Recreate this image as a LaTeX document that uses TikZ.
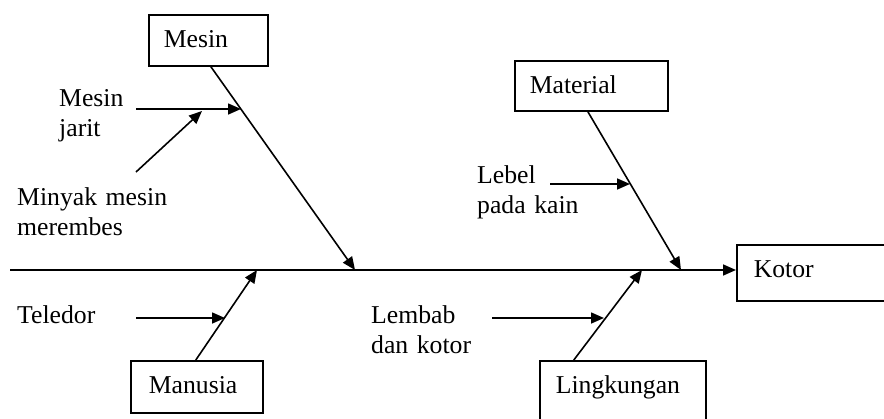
\documentclass[tikz,border=0pt]{standalone}
\usepackage{fontspec}
\setmainfont{Liberation Serif}
\usetikzlibrary{arrows.meta,calc}
\begin{document}
\begin{tikzpicture}[x=1pt,y=-1pt,
  every node/.style={font=\fontsize{25.7}{30.5}\selectfont},
  boxnode/.style={draw, line width=1.6pt, anchor=north west, inner ysep=0pt, text height=33pt, align=left},
  lbl/.style={anchor=base west, inner sep=0pt, align=left, text width=#1},
  arr/.style={line width=1.6pt, -{Triangle[length=13pt,width=11pt]}}]
\useasboundingbox (0,0) rectangle (884,418);

% boxes
\node[boxnode, inner xsep=15pt, text width=89pt, text depth=18pt] (mesin) at (148,14) {Mesin};
\node[boxnode, inner xsep=15pt, text width=123pt, text depth=17pt] (material) at (514,60) {Material};
\node[boxnode, inner xsep=17pt, text width=119pt, text depth=23pt] (kotor) at (736,244) {Kotor};
\node[boxnode, inner xsep=18pt, text width=96pt, text depth=19pt] (manusia) at (130,360) {Manusia};
\node[boxnode, inner xsep=16pt, text width=134pt, text depth=40pt] (lingkungan) at (539,360) {Lingkungan};

% labels
\node[lbl=120pt] (t1) at (59,106) {Mesin\\jarit};
\node[lbl=170pt] (t2) at (17,205) {Minyak mesin\\merembes};
\node[lbl=120pt] (t3) at (477,183) {Lebel\\pada kain};
\node[lbl=100pt] (t4) at (17,323) {Teledor};
\node[lbl=100pt] (t5) at (371,323) {Lembab\\dan kotor};

% spine
\coordinate (s0) at (10,270);
\draw[arr] (s0) -- (s0 -| kotor.west);

% bones
\coordinate (mtip) at (355,270);
\coordinate (mattip) at (681,270);
\coordinate (mantip) at (257,270);
\coordinate (ltip) at (642,270);
\draw[arr] ([xshift=2.5pt]mesin.south) -- (mtip);
\draw[arr] ([xshift=-3.5pt]material.south) -- (mattip);
\draw[arr] ([xshift=-1pt]manusia.north) -- (mantip);
\draw[arr] ([xshift=-49pt]lingkungan.north) -- (ltip);

% sub-causes
\coordinate (a1) at (136,109); \coordinate (b1) at (241,109);
\coordinate (a2) at (136,172); \coordinate (b2) at (202,111);
\coordinate (a3) at (550,184); \coordinate (b3) at (630,184);
\coordinate (a4) at (136,318); \coordinate (b4) at (225,318);
\coordinate (a5) at (492,318); \coordinate (b5) at (604,318);
\draw[arr] (a1) -- (b1);
\draw[arr] (a2) -- (b2);
\draw[arr] (a3) -- (b3);
\draw[arr] (a4) -- (b4);
\draw[arr] (a5) -- (b5);
\end{tikzpicture}
\end{document}
